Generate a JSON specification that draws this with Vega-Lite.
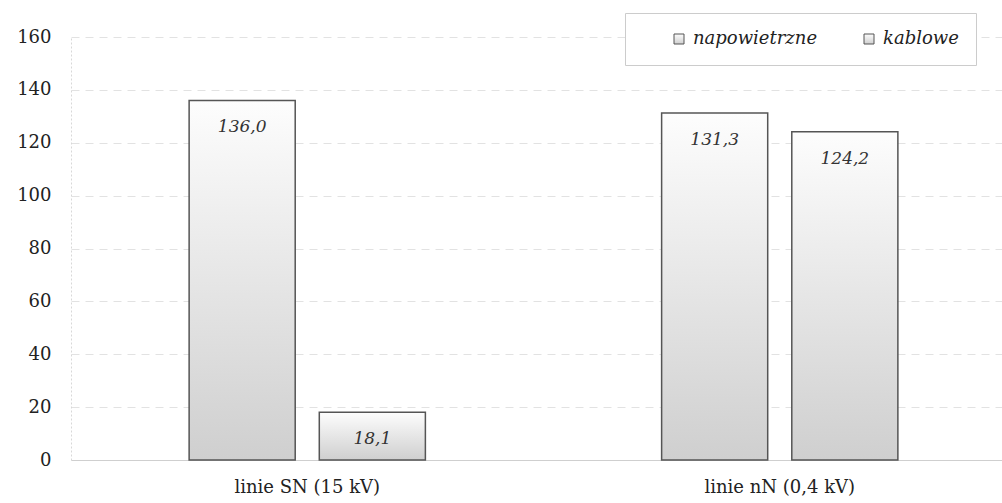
{
  "$schema": "https://vega.github.io/schema/vega-lite/v6.json",
  "width": 945,
  "height": 423,
  "autosize": {"type": "none"},
  "padding": {"left": 71, "top": 37, "right": 0, "bottom": 43},
  "background": "white",
  "data": {
    "values": [
      {"linia": "linie SN (15 kV)", "rodzaj": "napowietrzne", "wartosc": 136.0},
      {"linia": "linie SN (15 kV)", "rodzaj": "kablowe", "wartosc": 18.1},
      {"linia": "linie nN (0,4 kV)", "rodzaj": "napowietrzne", "wartosc": 131.3},
      {"linia": "linie nN (0,4 kV)", "rodzaj": "kablowe", "wartosc": 124.2}
    ]
  },
  "encoding": {
    "x": {
      "field": "linia",
      "type": "nominal",
      "sort": null,
      "scale": {"paddingInner": 0.5, "paddingOuter": 0.25},
      "axis": {
        "title": null,
        "labelAngle": 0,
        "ticks": false,
        "labelPadding": 18,
        "domainColor": "#cfcfcf",
        "domainWidth": 1
      }
    },
    "xOffset": {
      "field": "rodzaj",
      "type": "nominal",
      "sort": ["napowietrzne", "kablowe"],
      "scale": {"paddingInner": 0.185, "paddingOuter": 0}
    },
    "y": {
      "field": "wartosc",
      "type": "quantitative",
      "scale": {"domain": [0, 160], "nice": false},
      "axis": {
        "title": null,
        "values": [0, 20, 40, 60, 80, 100, 120, 140, 160],
        "ticks": false,
        "labelPadding": 20,
        "domain": true,
        "domainColor": "#d8d8d8",
        "domainDash": [2, 2],
        "grid": true,
        "gridColor": "#e2e2e2",
        "gridDash": [8, 6]
      }
    }
  },
  "layer": [
    {
      "mark": {
        "type": "bar",
        "strokeWidth": 1.5,
        "fill": {
          "gradient": "linear",
          "x1": 0, "y1": 0, "x2": 0, "y2": 1,
          "stops": [
            {"offset": 0, "color": "#fdfdfd"},
            {"offset": 1, "color": "#cfcfcf"}
          ]
        }
      },
      "encoding": {
        "stroke": {
          "field": "rodzaj",
          "type": "nominal",
          "sort": ["napowietrzne", "kablowe"],
          "scale": {"domain": ["napowietrzne", "kablowe"], "range": ["#555555", "#555555"]},
          "legend": {
            "title": null,
            "orient": "none",
            "legendX": 554,
            "legendY": -24,
            "direction": "horizontal",
            "symbolType": "square",
            "symbolSize": 100,
            "symbolStrokeWidth": 1,
            "symbolOffset": 28,
            "labelFont": "DejaVu Serif",
            "labelFontStyle": "italic",
            "labelFontSize": 18,
            "labelColor": "#222222",
            "labelOffset": 5,
            "columnPadding": 14,
            "padding": 17,
            "strokeColor": "#cccccc",
            "fillColor": "white",
            "offset": 0,
            "encode": {
              "symbols": {"update": {"fill": {"value": "#ffffff"}, "opacity": {"value": 1}}}
            }
          }
        }
      }
    },
    {
      "mark": {
        "type": "text",
        "baseline": "middle",
        "dy": 27,
        "font": "DejaVu Serif",
        "fontStyle": "italic",
        "fontSize": 17,
        "color": "#333333"
      },
      "encoding": {
        "text": {"field": "wartosc", "type": "quantitative", "format": ".1f"}
      }
    }
  ],
  "config": {
    "locale": {
      "number": {"decimal": ",", "thousands": " ", "grouping": [3], "currency": ["", " zł"]}
    },
    "view": {"stroke": null},
    "axis": {
      "labelFont": "DejaVu Serif",
      "labelFontSize": 18,
      "labelColor": "#222222"
    }
  }
}
